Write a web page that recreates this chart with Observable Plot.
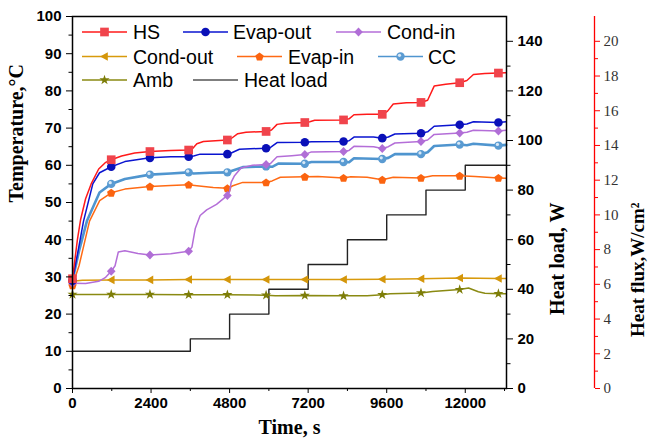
<!DOCTYPE html>
<html><head><meta charset="utf-8">
<script src="https://cdn.jsdelivr.net/npm/d3@7"></script>
<script src="https://cdn.jsdelivr.net/npm/@observablehq/plot@0.6"></script>
<style>body{margin:0;background:#fff}</style>
</head><body><div id="chart"></div>
<script>
// ---- data (time s, temperature °C) ----
const markerTimes = [0,1183,2366,3549,4732,5915,7098,8281,9464,10647,11830,13013];
const hs = [[0,29.5],[150,40],[250,45.5],[400,51],[570,55],[800,59],[1000,60.7],[1183,61.5],[1500,62.5],[1900,63.3],[2366,63.7],[3000,64],[3549,64.1],[3650,64.3],[3800,65.8],[4000,66.4],[4732,66.8],[4850,67.2],[5050,68.5],[5300,68.9],[5915,69.1],[6080,69.5],[6250,71],[6500,71.3],[7098,71.5],[7250,71.7],[7400,72.1],[8281,72.2],[8450,72.5],[8600,73.6],[9000,73.7],[9464,73.7],[9620,74.5],[9800,76.5],[10200,76.8],[10647,76.9],[10850,77.5],[11050,81.3],[11400,81.8],[11830,82.2],[12050,82.8],[12250,84.4],[12600,84.7],[13013,84.8],[13250,84.9]];
const evapOut = [[0,29],[150,36],[337,45],[620,55],[826,58],[1183,59.6],[1600,61],[2366,62],[3000,62.3],[3549,62.3],[3700,62.5],[3900,63],[4732,63],[4850,63.3],[5100,64.3],[5915,64.6],[6050,64.8],[6250,66.1],[7098,66.2],[7300,66.3],[8281,66.4],[8450,66.6],[8600,67.6],[9200,67.6],[9464,67.3],[9650,67.6],[9850,68.4],[10647,68.6],[10850,69],[11050,70.5],[11830,70.9],[12050,71.1],[12250,71.7],[13013,71.5],[13250,71.7]];
const condIn = [[0,28.3],[400,28.2],[800,28.8],[1000,29.8],[1183,31.5],[1300,33],[1400,36.7],[1600,37],[2000,36.3],[2366,35.9],[3000,36.2],[3549,36.9],[3650,38],[3750,43],[3900,46.5],[4100,48],[4400,49.5],[4732,51.9],[4800,53],[4850,55.5],[4950,57.2],[5150,59.3],[5500,60],[5915,60.2],[6050,60.5],[6250,62.3],[6700,62.6],[7098,62.9],[7300,63.6],[8281,63.7],[8450,64],[8600,65.1],[9200,65],[9464,64.5],[9650,65],[9850,66],[10647,66.4],[10850,66.8],[11050,68.3],[11830,68.7],[12050,68.9],[12250,69.4],[13013,69.2],[13250,69.4]];
const condOut = [[0,28.8],[300,29.1],[1183,29.2],[2366,29.2],[3549,29.3],[4732,29.3],[5915,29.3],[7098,29.3],[8281,29.3],[9464,29.4],[10647,29.5],[11830,29.7],[13013,29.6],[13250,29.6]];
const evapIn = [[0,27.7],[200,33],[520,45],[830,50.5],[1183,52.6],[1600,53.6],[2366,54.3],[3000,54.6],[3549,54.8],[3800,54.5],[4300,54],[4732,53.8],[4900,54.5],[5200,55.4],[5915,55.4],[6100,55.8],[6350,56.8],[7098,56.9],[7500,57],[8281,56.6],[8500,56.9],[9000,56.8],[9464,56.1],[9800,56.8],[10647,56.6],[11000,57.2],[11830,57.2],[12300,57],[13013,56.6],[13250,56.5]];
const cc = [[0,29],[200,37],[440,45],[826,52.7],[1183,55],[1600,56.3],[2366,57.5],[3000,57.8],[3549,58.1],[3700,57.8],[4200,58],[4732,58.1],[4900,58.6],[5200,59.5],[5915,59.7],[6100,59.6],[6300,60.5],[7098,60.4],[7300,60.9],[8281,60.9],[8450,60.8],[8600,61.9],[9464,61.7],[9650,62],[9850,63],[10647,63],[10850,63.5],[11050,65.2],[11830,65.6],[12050,65.4],[12250,65.8],[13013,65.3],[13250,65.5]];
const amb = [[0,25.3],[1183,25.3],[2366,25.3],[3549,25.2],[4732,25.2],[5915,25.1],[6200,24.9],[7098,25],[8281,24.9],[9000,24.9],[9464,25.2],[9700,25.5],[10647,25.7],[11000,26.1],[11830,26.6],[12100,27],[12400,26],[12600,25.6],[13013,25.5],[13250,25.5]];
// heat load (W), step-wise
const heatLoadT = [0,3600,4800,6000,7200,8400,9600,10800,12000,13260];
const heatLoadW = [15,20,30,40,50,60,70,80,90,90];
const xTicks = [0,2400,4800,7200,9600,12000];
const tempTicks = [0,10,20,30,40,50,60,70,80,90,100];
const loadTicks = [0,20,40,60,80,100,120,140];
const fluxTicks = [0,2,4,6,8,10,12,14,16,18,20];

// ---- symbols ----
function poly(pts){return {draw(ctx,size){const r=Math.sqrt(size/Math.PI);ctx.moveTo(pts[0][0]*r,pts[0][1]*r);for(let i=1;i<pts.length;i++)ctx.lineTo(pts[i][0]*r,pts[i][1]*r);ctx.closePath();}};}
const leftTri = poly([[-1.2,0],[0.9,-1.15],[0.9,1.15]]);
const pentagon = poly(d3.range(5).map(k=>{const a=(-90+72*k)*Math.PI/180;return [1.15*Math.cos(a),1.15*Math.sin(a)+0.1];}));
const diamond = poly([[0,-1.25],[1.2,0],[0,1.25],[-1.2,0]]);

const series = [
  {name:"Amb", data:amb, stroke:"#8a8a12", mfill:"#7d7d08", symbol:d3.symbolStar, r:3.2, w:1.5},
  {name:"Cond-out", data:condOut, stroke:"#d89a0c", mfill:"#d4960a", symbol:leftTri, r:3.7, w:1.5},
  {name:"Evap-in", data:evapIn, stroke:"#ff6a14", mfill:"#fb6410", symbol:pentagon, r:3.8, w:1.5},
  {name:"CC", data:cc, stroke:"#4f95cf", mfill:"#5a9bd2", symbol:d3.symbolCircle, r:4.2, w:2.6},
  {name:"Cond-in", data:condIn, stroke:"#b46ed8", mfill:"#b06ed6", symbol:diamond, r:3.6, w:1.5},
  {name:"Evap-out", data:evapOut, stroke:"#0a14d0", mfill:"#0a10b8", symbol:d3.symbolCircle, r:4.3, w:1.5},
  {name:"HS", data:hs, stroke:"#ff1a1a", mfill:"#f0444c", symbol:d3.symbolSquare, r:4.9, w:1.5}
];

const toY = w => w/1.5;           // heat load W -> temperature-axis units
const fluxToY = f => f*7/1.5;      // heat flux W/cm² -> W -> temperature-axis units
const xMax = 13260;
const heat = heatLoadT.map((t,i)=>({t, w:heatLoadW[i]}));

const marks = [
  Plot.line(heat, {x:"t", y:d=>toY(d.w), curve:"step-after", stroke:"#222", strokeWidth:1.4}),
];
for (const s of series) {
  marks.push(Plot.line(s.data, {x:d=>d[0], y:d=>d[1], stroke:s.stroke, strokeWidth:s.w}));
  const m = s.data.filter(d=>markerTimes.includes(d[0]));
  marks.push(Plot.dot(m, {x:d=>d[0], y:d=>d[1], symbol:s.symbol, r:s.r, fill:s.mfill, stroke:"none"}));
  if (s.name==="CC") marks.push(Plot.dot(m, {x:d=>d[0], y:d=>d[1], r:1.6, fill:"#d8e8f6", dx:-1, dy:-1.2}));
}
const axFont = {fontFamily:"Liberation Sans, Arial, sans-serif", fontWeight:"bold", fontSize:15};
const serif = "Liberation Serif, Times New Roman, serif";
marks.push(
  Plot.frame({stroke:"#000", strokeWidth:1.5}),
  // bottom axis
  Plot.axisX(xTicks, {anchor:"bottom", tickSize:5, tickPadding:4, label:null, tickFormat:d=>String(d), ...axFont, fill:"#000"}),
  Plot.axisX(d3.range(1200,13201,2400), {anchor:"bottom", tickSize:3, tickFormat:()=>"", label:null}),
  // left axis
  Plot.axisY(tempTicks, {anchor:"left", tickSize:6, tickPadding:5, label:null, ...axFont, fill:"#000"}),
  Plot.axisY(d3.range(5,100,10), {anchor:"left", tickSize:3.5, tickFormat:()=>"", label:null}),
  // right heat load axis
  Plot.axisY(loadTicks.map(toY), {anchor:"right", tickSize:6, tickPadding:5, label:null, tickFormat:d=>String(Math.round(d*1.5)), ...axFont, fill:"#000"}),
  Plot.axisY(d3.range(10,150,20).map(toY), {anchor:"right", tickSize:3.5, tickFormat:()=>"", label:null}),
  // heat flux axis (offset)
  Plot.ruleX([xMax], {dx:88, stroke:"#ff0000", strokeWidth:1.3}),
  Plot.axisY(fluxTicks.map(fluxToY), {anchor:"right", dx:88, tickSize:5, tickPadding:4, label:null, stroke:"#ff0000", fill:"#333", tickFormat:d=>String(Math.round(d*1.5/7)), fontFamily:serif, fontSize:15}),
  Plot.axisY(d3.range(1,21,2).map(fluxToY), {anchor:"right", dx:88, tickSize:3, tickFormat:()=>"", label:null, stroke:"#ff0000"}),
  // axis titles
  Plot.text(["Temperature,°C"], {frameAnchor:"left", rotate:-90, dx:-56, fontFamily:serif, fontWeight:"bold", fontSize:20, fill:"#000"}),
  Plot.text(["Heat load, W"], {frameAnchor:"right", rotate:-90, dx:51, fontFamily:serif, fontWeight:"bold", fontSize:20, fill:"#000"}),
  Plot.text(["Heat flux,W/cm²"], {frameAnchor:"right", rotate:-90, dx:131, fontFamily:serif, fontWeight:"bold", fontSize:19, fill:"#000"}),
  Plot.text(["Time, s"], {frameAnchor:"bottom", dy:45, fontFamily:serif, fontWeight:"bold", fontSize:20, fill:"#000"})
);

const chart = Plot.plot({
  width:648, height:446,
  marginLeft:72, marginRight:142, marginTop:16, marginBottom:58,
  x:{domain:[0,xMax]},
  y:{domain:[0,100]},
  style:{background:"#fff", color:"#000"},
  marks
});
document.getElementById("chart").appendChild(chart);

// ---- legend (inside the plot, 3 rows) ----
const svg = d3.select(chart.tagName.toLowerCase()==="svg" ? chart : chart.querySelector("svg"));
const byName = Object.fromEntries(series.map(s=>[s.name,s]));
const legendRows = [
  [["HS",82,133],["Evap-out",183,233],["Cond-in",336,387]],
  [["Cond-out",82,133],["Evap-in",237,288],["CC",378,428]],
  [["Amb",82,133],["Heat load",193,244]]
];
const rowY = [32,56.5,80];
const lg = svg.append("g").attr("text-anchor","start");
legendRows.forEach((row,ri)=>{
  const y = rowY[ri];
  row.forEach(([name,x1,tx])=>{
    const s = byName[name];
    const x2 = x1+45;
    lg.append("line").attr("x1",x1).attr("x2",x2).attr("y1",y).attr("y2",y)
      .attr("stroke", s? s.stroke : "#555").attr("stroke-width", s? 1.5 : 1.3);
    if (s) {
      lg.append("path").attr("transform",`translate(${(x1+x2)/2},${y})`)
        .attr("d", d3.symbol().type(s.symbol).size(Math.PI*s.r*s.r)()).attr("fill", s.mfill);
      if (name==="CC") lg.append("circle").attr("cx",(x1+x2)/2-1).attr("cy",y-1.2).attr("r",1.6).attr("fill","#d8e8f6");
    }
    lg.append("text").attr("x",tx).attr("y",y+7).text(name).attr("text-anchor","start")
      .attr("font-family","Liberation Sans, Arial, sans-serif").attr("font-size",19.5).attr("fill","#000");
  });
});
</script>
</body></html>
